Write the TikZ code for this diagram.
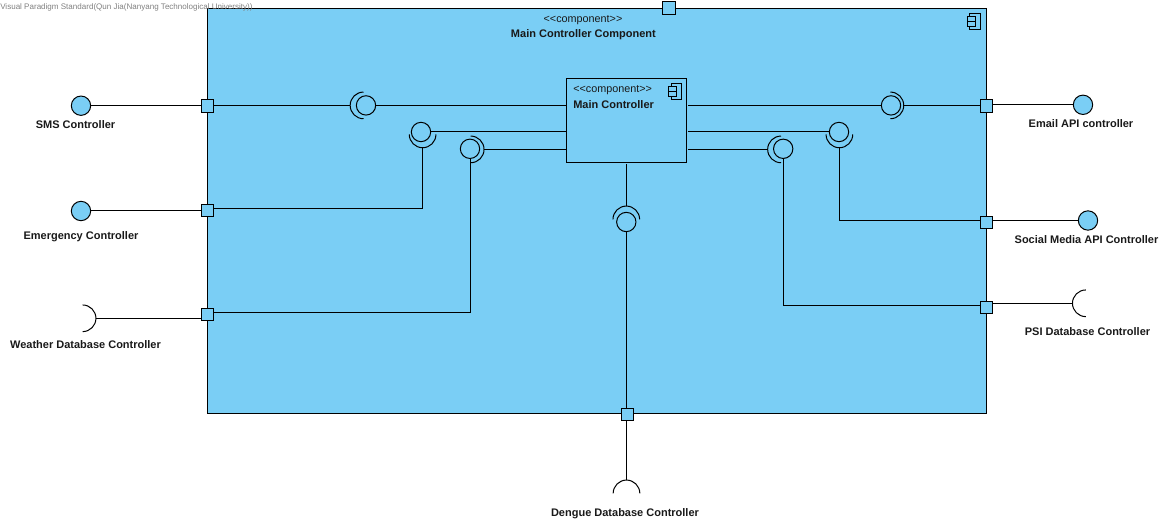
\documentclass[tikz,border=0pt]{standalone}
\usepackage{fontspec}
\setmainfont{Liberation Sans}
\usetikzlibrary{positioning,calc}
\definecolor{compblue}{RGB}{122,206,245}
\newcommand*{\sockr}{10pt}
\newcommand*{\sterc}{<{}<component>{}>}
\tikzset{
  conn/.style={draw=black,line width=0.75pt},
  comp/.style={draw=black,fill=compblue,line width=0.75pt},
  port/.style={comp,rectangle,minimum size=9.4pt,inner sep=0pt},
  ball/.style={comp,circle,minimum size=14.5pt,inner sep=0pt},
  socket/.style={circle,minimum size=20pt,inner sep=0pt,outer sep=0pt},
  lab/.style={font=\bfseries\fontsize{8.25}{10}\selectfont,inner sep=0pt,text=black!90},
  ster/.style={font=\fontsize{8.1}{10}\selectfont,inner sep=0pt,text=black!90}
}
\begin{document}
\begin{tikzpicture}[x=0.75pt,y=-0.75pt]
\useasboundingbox (0,0) rectangle (1172,524);
% Outer component
\node[comp,rectangle,anchor=north west,minimum width=584pt,minimum height=303.4pt,inner sep=0pt,outer sep=0pt] (outer) at (207.6,8.6) {};
\node[ster] (outerster) at (583,20.3) {\sterc};
\node[lab] (outertitle) at (583.4,35) {Main Controller Component};
% Inner component
\node[comp,rectangle,anchor=north west,minimum width=90.3pt,minimum height=63pt,inner sep=0pt,outer sep=0pt] (main) at (566.4,78.4) {};
\node[ster,anchor=west] (mainster) at (573,90.3) {\sterc};
\node[lab,anchor=west] (maintitle) at (573,105) {Main Controller};
% Component icons
\draw[conn] (969.7,14) rectangle (980.7,29.3);
\draw[conn,fill=compblue] (967,16.7) rectangle (975,21.7);
\draw[conn,fill=compblue] (967,21.7) rectangle (975,26.7);
\draw[conn] (671,83.7) rectangle (681.7,99.7);
\draw[conn,fill=compblue] (668,86.4) rectangle (676,91.4);
\draw[conn,fill=compblue] (668,91.4) rectangle (676,96.6);
% Balls
\node[ball] (smsball) at (81,105.7) {};
\node[ball] (emgball) at (81,211) {};
\node[ball] (emailball) at (1083,104.8) {};
\node[ball] (socialball) at (1088,220.5) {};
\node[ball] (smsin) at (366,105.4) {};
\node[ball] (emgin) at (421,132) {};
\node[ball] (wthin) at (470,148.8) {};
\node[ball] (emailin) at (891,105.4) {};
\node[ball] (socialin) at (839,132) {};
\node[ball] (psiin) at (783.2,148.8) {};
\node[ball] (dengin) at (626.3,222) {};
% Sockets, drawn as half circles
\node[socket] (smssock) at (363.5,105.4) {};
\node[socket] (emgsock) at (422.6,134.4) {};
\node[socket] (wthsock) at (470.7,149.4) {};
\node[socket] (emailsock) at (890.4,105.4) {};
\node[socket] (socialsock) at (839.4,134.4) {};
\node[socket] (psisock) at (781,149.4) {};
\node[socket] (dengsock) at (626.3,219.4) {};
\node[socket] (wthout) at (82.6,318.3) {};
\node[socket] (psiout) at (1085.8,303.3) {};
\node[socket] (dengout) at (626.5,493.4) {};
\draw[conn] (smssock.north) arc[start angle=90,end angle=270,radius=\sockr];
\draw[conn] (emgsock.west) arc[start angle=180,end angle=360,radius=\sockr];
\draw[conn] (wthsock.north) arc[start angle=90,end angle=-90,radius=\sockr];
\draw[conn] (emailsock.north) arc[start angle=90,end angle=-90,radius=\sockr];
\draw[conn] (socialsock.west) arc[start angle=180,end angle=360,radius=\sockr];
\draw[conn] (psisock.north) arc[start angle=90,end angle=270,radius=\sockr];
\draw[conn] (dengsock.west) arc[start angle=180,end angle=0,radius=\sockr];
\draw[conn] (wthout.north) arc[start angle=90,end angle=-90,radius=\sockr];
\draw[conn] (psiout.north) arc[start angle=90,end angle=270,radius=\sockr];
\draw[conn] (dengout.west) arc[start angle=180,end angle=0,radius=\sockr];
% Connectors on the left
\draw[conn] (smsball.east) -- (smsball.east -| outer.west);
\draw[conn] (emgball.east) -- (emgball.east -| outer.west);
\draw[conn] (wthout.east) -- (wthout.east -| outer.west);
\draw[conn] (outer.west |- smssock.west) -- (smssock.west);
\draw[conn] (smsin.east) -- (smsin.east -| main.west);
\draw[conn] (emgin.east) -- (emgin.east -| main.west);
\draw[conn] (wthsock.east) -- (wthsock.east -| main.west);
\draw[conn] (emgsock.south) |- ([yshift=1.6pt]outer.west |- 0,210.3);
\draw[conn] (wthin.south) |- ([yshift=1.6pt]outer.west |- 0,314.3);
% Connectors on the right
\draw[conn] ([xshift=1.2pt]main.east |- emailin.west) -- (emailin.west);
\draw[conn] (emailsock.east) -- (emailsock.east -| outer.east);
\draw[conn] ([xshift=1.2pt]main.east |- socialin.west) -- (socialin.west);
\draw[conn] ([xshift=1.2pt]main.east |- psisock.west) -- (psisock.west);
\draw[conn] (socialsock.south) |- ([yshift=1.6pt]outer.east |- 0,222.5);
\draw[conn] (psiin.south) |- ([yshift=1.6pt]outer.east |- 0,307.5);
\draw[conn] (outer.east |- emailball.west) -- (emailball.west);
\draw[conn] (outer.east |- socialball.west) -- (socialball.west);
\draw[conn] (outer.east |- psiout.west) -- (psiout.west);
% Connectors at the bottom
\draw[conn] ([yshift=-1.2pt]main.south -| dengsock.north) -- (dengsock.north);
\draw[conn] (dengin.south) -- (dengin.south |- outer.south);
\draw[conn] (outer.south -| dengout.north) -- (dengout.north);
% Ports
\node[port] (topport) at (669,8) {};
\node[port] (smsport) at (207.5,106.2) {};
\node[port] (emgport) at (207.5,210.3) {};
\node[port] (wthport) at (207.5,314.3) {};
\node[port] (emailport) at (986.5,106.2) {};
\node[port] (socialport) at (986.5,222.5) {};
\node[port] (psiport) at (986.5,307.5) {};
\node[port] (dengport) at (627.5,414.5) {};
% Labels
\node[lab] (smslab) at (75.5,124.7) {SMS Controller};
\node[lab] (emglab) at (81,236.7) {Emergency Controller};
\node[lab] (wthlab) at (85.5,344.7) {Weather Database Controller};
\node[lab] (emaillab) at (1081,123.7) {Email API controller};
\node[lab] (sociallab) at (1086.5,239.7) {Social Media API Controller};
\node[lab] (psilab) at (1087.5,331.7) {PSI Database Controller};
\node[lab] (denglab) at (625,513.7) {Dengue Database Controller};
\node[anchor=west,inner sep=0pt,text=black!50,font=\fontsize{6.03}{8}\selectfont] (mark) at (0,7.6) {Visual Paradigm Standard(Qun Jia(Nanyang Technological University))};
\end{tikzpicture}
\end{document}
